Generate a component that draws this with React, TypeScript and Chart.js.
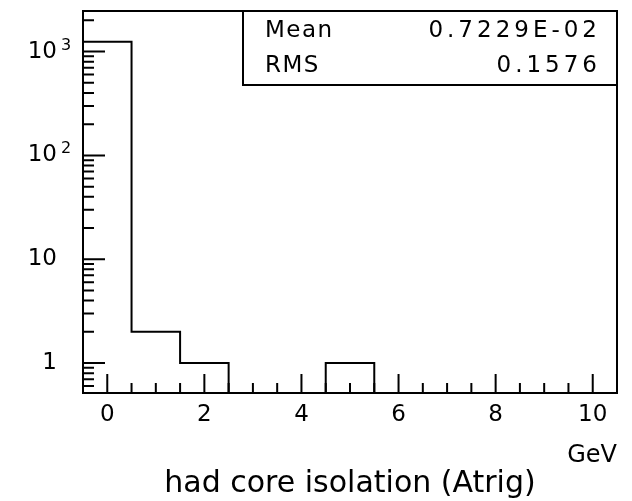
import React, { useEffect, useRef } from "react";
import { Chart, registerables } from "chart.js";

Chart.register(...registerables);

// ---- data ----
const binCenters = [0, 1, 2, 3, 4, 5, 6, 7, 8, 9, 10];
const binCounts = [1241, 2, 1, 0, 0, 1, 0, 0, 0, 0, 0];
const binWidth = 1;
const xMin = -0.5;
const xMax = 10.5;
const yMin = 0.515;
const yMax = 2460;
const xLabelValues = [0, 2, 4, 6, 8, 10];
const xLabelTexts = ["0", "2", "4", "6", "8", "10"];
const yDecadeValues = [1, 10, 100, 1000];
const yDecadeBases = ["1", "10", "10", "10"];
const yDecadeExponents = ["", "", "2", "3"];
const statNames = ["Mean", "RMS"];
const statValues = ["0.7229E-02", "0.1576"];
const xTitle = "GeV";
const chartTitle = "had core isolation (Atrig)";

const FONT = "'DejaVu Sans', sans-serif";

const pawPlugin = {
  id: "pawFrame",
  afterDraw(chart: any) {
    const { ctx, chartArea: a, scales } = chart;
    const xs = scales.x;
    const ys = scales.y;
    ctx.save();
    ctx.strokeStyle = "#000";
    ctx.lineWidth = 2;
    ctx.lineCap = "butt";
    ctx.beginPath();
    for (const t of xs.ticks) {
      const v = t.value;
      if (v <= xMin + 1e-9 || v >= xMax - 1e-9) continue;
      const px = xs.getPixelForValue(v);
      const major = Math.abs(v / 2 - Math.round(v / 2)) < 1e-9;
      const len = major ? 19 : 10;
      ctx.moveTo(px, a.bottom);
      ctx.lineTo(px, a.bottom - len);
    }
    for (const t of ys.ticks) {
      const v = t.value;
      const py = ys.getPixelForValue(v);
      if (py < a.top + 1 || py > a.bottom - 1) continue;
      const lg = Math.log10(v);
      const major = Math.abs(lg - Math.round(lg)) < 1e-6;
      ctx.moveTo(a.left, py);
      ctx.lineTo(a.left + (major ? 22 : 11), py);
    }
    ctx.stroke();
    ctx.strokeRect(a.left, a.top, a.right - a.left, a.bottom - a.top);

    // exponents of the decade labels
    ctx.fillStyle = "#000";
    ctx.font = `16px ${FONT}`;
    ctx.textAlign = "left";
    ctx.textBaseline = "alphabetic";
    yDecadeValues.forEach((v, i) => {
      const e = yDecadeExponents[i];
      if (!e) return;
      const py = ys.getPixelForValue(v);
      ctx.fillText(e, ys.right - 22, py - 2);
    });

    // statistics box
    const bx = 243;
    const by = a.top;
    const bw = a.right - bx;
    const bh = 74;
    ctx.fillStyle = "#fff";
    ctx.fillRect(bx, by, bw, bh);
    ctx.strokeRect(bx, by, bw, bh);
    ctx.fillStyle = "#000";
    ctx.font = `23px ${FONT}`;
    ctx.textBaseline = "middle";
    const rowsY = [by + 20.5, by + 55.5];
    statNames.forEach((n, i) => {
      ctx.letterSpacing = "1.5px";
      ctx.textAlign = "left";
      ctx.fillText(n, bx + 22, rowsY[i]);
      ctx.letterSpacing = "4px";
      ctx.textAlign = "right";
      ctx.fillText(statValues[i], a.right - 20 + 4, rowsY[i]);
    });
    ctx.letterSpacing = "0px";
    ctx.restore();
  },
};

export default function App() {
  const ref = useRef<HTMLCanvasElement>(null);
  useEffect(() => {
    document.body.style.margin = "0";
    const pts: { x: number; y: number }[] = [];
    pts.push({ x: binCenters[0] - binWidth / 2, y: yMin });
    binCenters.forEach((c, i) => {
      pts.push({ x: c - binWidth / 2, y: binCounts[i] > 0 ? binCounts[i] : yMin });
    });
    pts.push({ x: binCenters[binCenters.length - 1] + binWidth / 2, y: yMin });

    const chart = new Chart(ref.current as HTMLCanvasElement, {
      type: "line",
      data: {
        datasets: [
          {
            data: pts,
            borderColor: "#000",
            borderWidth: 2,
            stepped: true,
            pointRadius: 0,
            fill: false,
            tension: 0,
            clip: false as any,
          },
        ],
      },
      options: {
        animation: false,
        responsive: false,
        devicePixelRatio: 1,
        layout: { padding: { top: 11, right: 15, left: 0, bottom: 0 } },
        plugins: {
          legend: { display: false },
          tooltip: { enabled: false },
          title: {
            display: true,
            text: chartTitle,
            position: "bottom",
            fullSize: false,
            color: "#000",
            font: { family: FONT, size: 30, lineHeight: 1, weight: "normal" },
            padding: { top: 0, bottom: 2 },
          },
        },
        scales: {
          x: {
            type: "linear",
            min: xMin,
            max: xMax,
            grid: { display: false, drawTicks: false },
            border: { display: false },
            afterFit: (s: any) => {
              s.height = 76;
              s.paddingLeft = 0;
              s.paddingRight = 0;
            },
            ticks: {
              stepSize: 0.5,
              autoSkip: false,
              maxRotation: 0,
              minRotation: 0,
              padding: 10.5,
              color: "#000",
              font: { family: FONT, size: 23, lineHeight: 1 },
              callback: (v: any) => {
                const i = xLabelValues.indexOf(Number(v));
                return i >= 0 ? xLabelTexts[i] : "";
              },
            },
            title: {
              display: true,
              text: xTitle,
              align: "end",
              color: "#000",
              font: { family: FONT, size: 24, lineHeight: 1 },
              padding: { top: 0, bottom: 1.3 },
            },
          },
          y: {
            type: "logarithmic",
            min: yMin,
            max: yMax,
            grid: { display: false, drawTicks: false },
            border: { display: false },
            afterFit: (s: any) => {
              s.width = 83;
              s.paddingTop = 0;
              s.paddingBottom = 0;
            },
            afterBuildTicks: (s: any) => {
              const t: any[] = [];
              for (let e = -1; e <= 3; e++) {
                for (let m = 1; m <= 9; m++) {
                  const v = Number((m * Math.pow(10, e)).toPrecision(6));
                  if (v >= yMin && v <= yMax) t.push({ value: v, major: m === 1 });
                }
              }
              s.ticks = t;
            },
            ticks: {
              autoSkip: false,
              padding: 26,
              color: "#000",
              font: { family: FONT, size: 23, lineHeight: 1 },
              callback: (v: any) => {
                const i = yDecadeValues.indexOf(Number(v));
                return i >= 0 ? yDecadeBases[i] : "";
              },
            },
          },
        },
      },
      plugins: [pawPlugin],
    } as any);
    return () => chart.destroy();
  }, []);
  return (
    <div style={{ position: "relative", width: 632, height: 501 }}>
      <canvas ref={ref} width={632} height={501} style={{ display: "block", width: 632, height: 501 }} />
    </div>
  );
}
